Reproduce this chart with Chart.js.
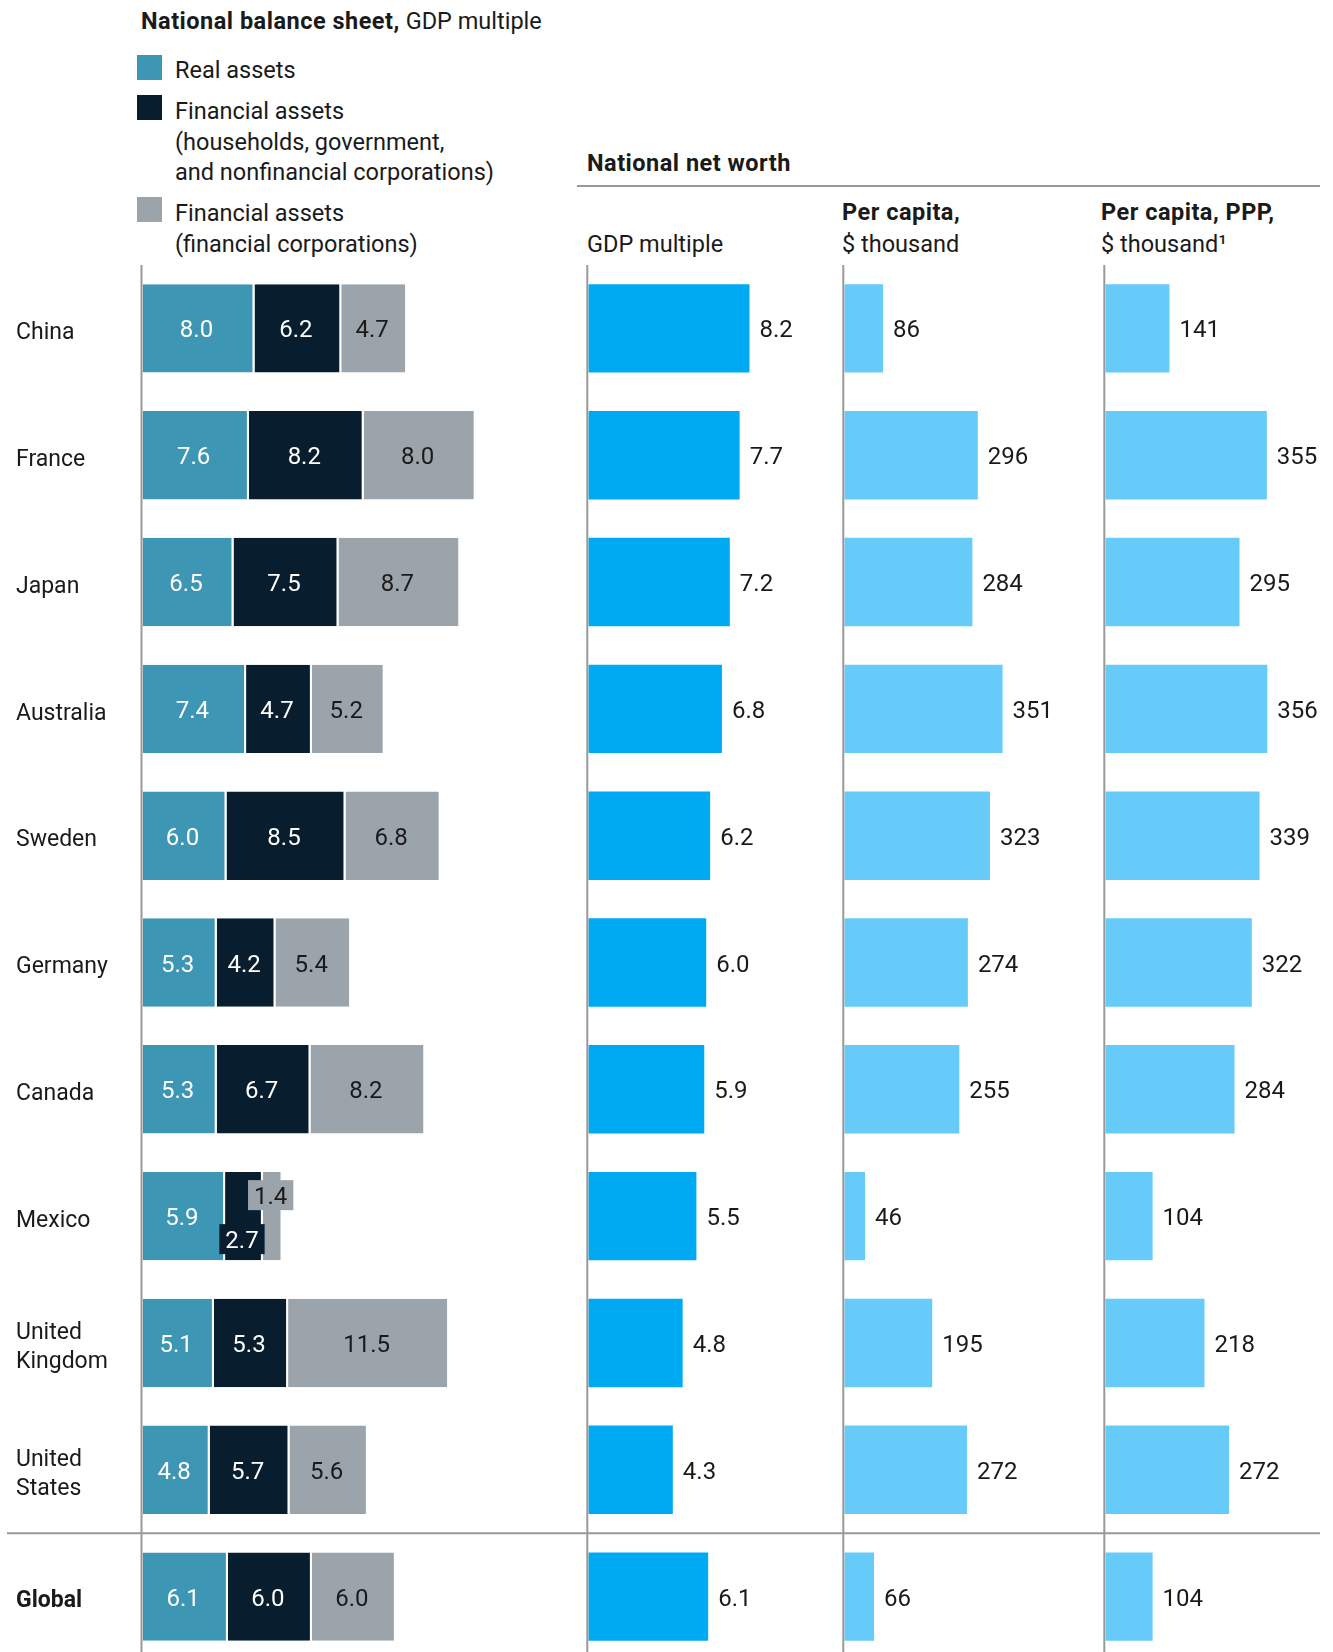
<!DOCTYPE html>
<html>
<head>
<meta charset="utf-8">
<script src="https://cdn.jsdelivr.net/npm/chart.js@4.4.1/dist/chart.umd.min.js"></script>
<style>
html, body { margin: 0; padding: 0; width: 1333px; height: 1652px; overflow: hidden; background: #fff; }
body { position: relative; font-family: Roboto, "Liberation Sans", sans-serif; color: #1a1a1a; }
.t { position: absolute; font-size: 23.5px; line-height: 30px; white-space: nowrap; }
.b { font-weight: bold; letter-spacing: 0.5px; }
.sw { position: absolute; left: 137px; width: 25px; height: 25px; }
.rule { position: absolute; height: 2px; background: #999; }
canvas { position: absolute; top: 265px; }
</style>
</head>
<body>
<div class="t" style="left:141px;top:6px"><span class="b">National balance sheet,</span> GDP multiple</div>

<div class="sw" style="top:55px;background:#3e96b5"></div>
<div class="t" style="left:175px;top:55px">Real assets</div>
<div class="sw" style="top:95px;background:#081d2e"></div>
<div class="t" style="left:175px;top:96px">Financial assets</div>
<div class="t" style="left:175px;top:127px">(households, government,</div>
<div class="t" style="left:175px;top:157px">and nonfinancial corporations)</div>
<div class="sw" style="top:197px;background:#9ca4ab"></div>
<div class="t" style="left:175px;top:198px">Financial assets</div>
<div class="t" style="left:175px;top:229px">(financial corporations)</div>

<div class="t b" style="left:587px;top:148px">National net worth</div>
<div class="rule" style="left:577px;top:185px;width:743px"></div>
<div class="t" style="left:587px;top:229px">GDP multiple</div>
<div class="t b" style="left:842px;top:197px">Per capita,</div>
<div class="t" style="left:842px;top:229px">$ thousand</div>
<div class="t b" style="left:1101px;top:197px">Per capita, PPP,</div>
<div class="t" style="left:1101px;top:229px">$ thousand¹</div>

<canvas id="balance" width="577" height="1395" style="left:0"></canvas>
<canvas id="gdpMultiple" width="256" height="1395" style="left:577px"></canvas>
<canvas id="perCapita" width="258" height="1395" style="left:833px"></canvas>
<canvas id="perCapitaPpp" width="242" height="1395" style="left:1091px"></canvas>

<script>
const countries = ['China', 'France', 'Japan', 'Australia', 'Sweden', 'Germany', 'Canada', 'Mexico',
    ['United', 'Kingdom'], ['United', 'States'], 'Global'];

// National balance sheet, GDP multiple
const realAssets = [8.0, 7.6, 6.5, 7.4, 6.0, 5.3, 5.3, 5.9, 5.1, 4.8, 6.1];
const finAssetsNonFin = [6.2, 8.2, 7.5, 4.7, 8.5, 4.2, 6.7, 2.7, 5.3, 5.7, 6.0];
const finAssetsFinCorp = [4.7, 8.0, 8.7, 5.2, 6.8, 5.4, 8.2, 1.4, 11.5, 5.6, 6.0];

// National net worth
const netWorthGdp = [8.2, 7.7, 7.2, 6.8, 6.2, 6.0, 5.9, 5.5, 4.8, 4.3, 6.1];
const netWorthPerCapita = [86, 296, 284, 351, 323, 274, 255, 46, 195, 272, 66];
const netWorthPerCapitaPpp = [141, 355, 295, 356, 339, 322, 284, 104, 218, 272, 104];

const FONT = 'Roboto, "Liberation Sans", sans-serif';
const TEXT = '#1a1a1a';

// axis line on the left of each panel + the rule above "Global"
const panelLines = {
    id: 'panelLines',
    afterDatasetsDraw(chart, args, opts) {
        const { ctx, chartArea, scales: { y } } = chart;
        const n = countries.length;
        const sepY = (y.getPixelForValue(n - 2) + y.getPixelForValue(n - 1)) / 2;
        ctx.save();
        ctx.strokeStyle = '#999';
        ctx.lineWidth = 2;
        ctx.beginPath();
        ctx.moveTo(chartArea.left - 1, chartArea.top);
        ctx.lineTo(chartArea.left - 1, chartArea.bottom);
        ctx.moveTo(opts.from, sepY);
        ctx.lineTo(opts.to, sepY);
        ctx.stroke();
        ctx.restore();
    }
};

// numbers on / after the bars
const valueLabels = {
    id: 'valueLabels',
    afterDatasetsDraw(chart, args, opts) {
        const ctx = chart.ctx;
        ctx.save();
        ctx.font = '24px ' + FONT;
        ctx.textBaseline = 'middle';
        chart.data.datasets.forEach((ds, di) => {
            chart.getDatasetMeta(di).data.forEach((bar, i) => {
                const v = ds.data[i];
                const txt = opts.decimals ? v.toFixed(1) : String(v);
                const tw = ctx.measureText(txt).width;
                const ty = bar.y + 3;
                if (opts.inside) {
                    const cx = (bar.x + bar.base) / 2 - 2;
                    ctx.textAlign = 'center';
                    if (tw + 8 <= bar.x - bar.base) {
                        ctx.fillStyle = ds.labelColor;
                        ctx.fillText(txt, cx, ty);
                    } else {
                        // segment too thin, put a boxed label above or below
                        const dy = di === 1 ? 23 : -21;
                        ctx.fillStyle = ds.backgroundColor;
                        ctx.fillRect(cx - tw / 2 - 6, bar.y + dy - 15, tw + 12, 30);
                        ctx.fillStyle = ds.labelColor;
                        ctx.fillText(txt, cx, ty + dy);
                    }
                } else {
                    ctx.fillStyle = TEXT;
                    ctx.textAlign = 'left';
                    ctx.fillText(txt, bar.x + 10, ty);
                }
            });
        });
        ctx.restore();
    }
};

const barDefaults = {
    categoryPercentage: 1,
    barPercentage: 0.697,
    borderWidth: 0
};

function panel(id, datasets, xMax, padLeft, lineFrom, lineTo, decimals) {
    return new Chart(document.getElementById(id), {
        type: 'bar',
        data: { labels: countries, datasets: datasets },
        options: {
            indexAxis: 'y',
            responsive: false,
            animation: false,
            devicePixelRatio: 1,
            layout: { padding: { left: padLeft } },
            datasets: { bar: barDefaults },
            scales: {
                x: { display: false, min: 0, max: xMax },
                y: { display: false }
            },
            plugins: {
                legend: { display: false },
                tooltip: { enabled: false },
                panelLines: { from: lineFrom, to: lineTo },
                valueLabels: { inside: false, decimals: decimals }
            }
        },
        plugins: [panelLines, valueLabels]
    });
}

// stacked balance sheet panel, carries the country labels
new Chart(document.getElementById('balance'), {
    type: 'bar',
    data: {
        labels: countries,
        datasets: [
            { label: 'Real assets', data: realAssets, backgroundColor: '#3e96b5', labelColor: '#fff' },
            { label: 'Financial assets (households, government, and nonfinancial corporations)', data: finAssetsNonFin, backgroundColor: '#081d2e', labelColor: '#fff' },
            { label: 'Financial assets (financial corporations)', data: finAssetsFinCorp, backgroundColor: '#9ca4ab', labelColor: TEXT }
        ]
    },
    options: {
        indexAxis: 'y',
        responsive: false,
        animation: false,
        devicePixelRatio: 1,
        layout: { padding: { left: 16 } },
        datasets: {
            bar: {
                categoryPercentage: 1,
                barPercentage: 0.697,
                borderWidth: { top: 0, left: 0, bottom: 0, right: 2 },
                borderColor: '#fff',
                borderSkipped: false
            }
        },
        scales: {
            x: { stacked: true, display: false, min: 0, max: 31.04 },
            y: {
                stacked: true,
                grid: { display: false },
                border: { display: false },
                ticks: {
                    crossAlign: 'far',
                    padding: 0,
                    labelOffset: 5,
                    color: TEXT,
                    font: c => ({ family: FONT, size: 23, lineHeight: 1.27, weight: c.index === countries.length - 1 ? 'bold' : 'normal' })
                },
                afterFit: s => {
                    s.width = 126.5;
                    s.paddingTop = 0;
                    s.paddingBottom = 0;
                }
            }
        },
        plugins: {
            legend: { display: false },
            tooltip: { enabled: false },
            panelLines: { from: 7, to: 577 },
            valueLabels: { inside: true, decimals: true }
        }
    },
    plugins: [panelLines, valueLabels]
});

panel('gdpMultiple', [{ label: 'GDP multiple', data: netWorthGdp, backgroundColor: '#00aaf3' }], 12.45, 11.3, 0, 256, true);
panel('perCapita', [{ label: 'Per capita, $ thousand', data: netWorthPerCapita, backgroundColor: '#66cbf9' }], 547, 11.3, 0, 258, false);
panel('perCapitaPpp', [{ label: 'Per capita, PPP, $ thousand', data: netWorthPerCapitaPpp, backgroundColor: '#66cbf9' }], 500.4, 14.3, 0, 229, false);
</script>
</body>
</html>
